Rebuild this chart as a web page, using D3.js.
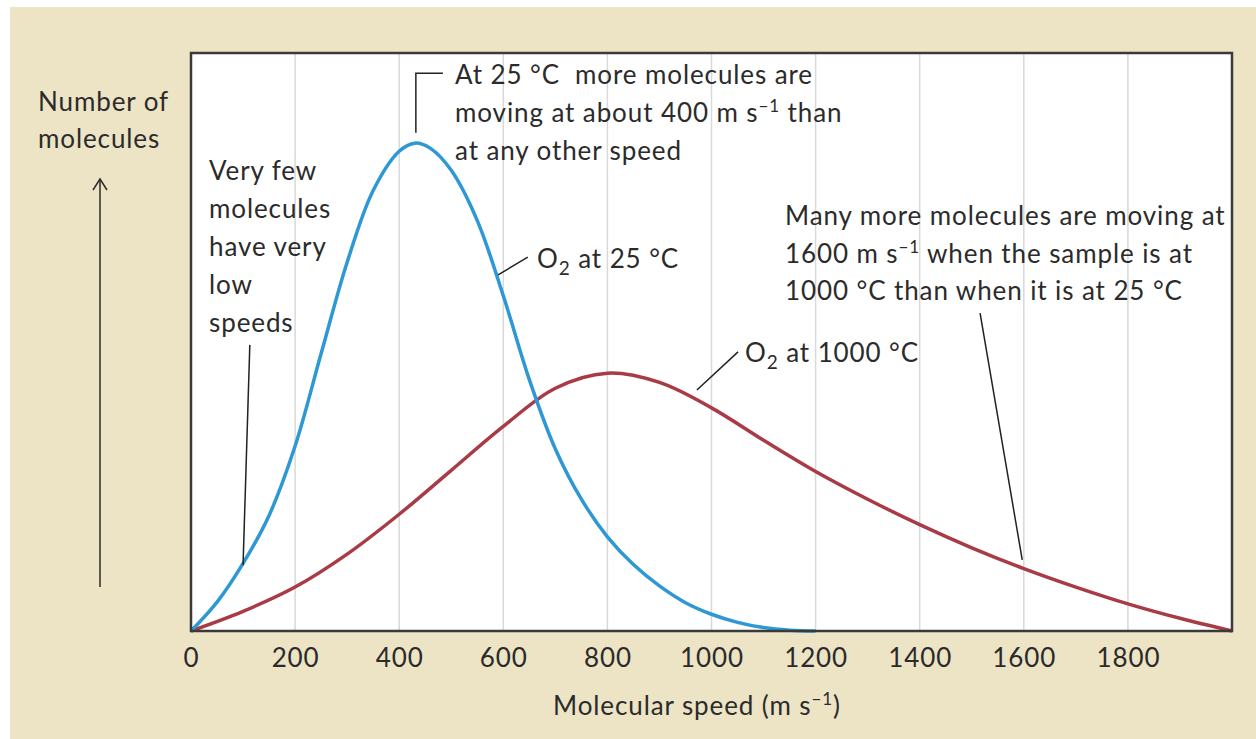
<!DOCTYPE html>
<html>
<head>
<meta charset="utf-8">
<script src="https://cdn.jsdelivr.net/npm/d3@7"></script>
<style>
  body { margin: 0; background: #fff; }
  text { font-family: Lato, "Open Sans", sans-serif; fill: #2b2b2b; letter-spacing: 0.9px; white-space: pre; }
</style>
</head>
<body>
<div id="chart"></div>
<script>
// speeds (m/s) and relative number of molecules (0-100 of plot height)
const speeds25 = [0, 50, 100, 150, 200, 250, 300, 350, 400, 430, 460, 500, 550, 600, 650, 700, 750, 800, 850, 900, 950, 1000, 1050, 1100, 1150, 1200];
const counts25 = [0, 5.0, 11.7, 20, 32, 48, 63.8, 76.2, 83.0, 84.4, 83.5, 79.7, 71, 58, 43.5, 31.5, 22.8, 16.3, 11.5, 7.8, 4.9, 2.9, 1.5, 0.6, 0.15, 0];

const speeds1000 = [0, 100, 200, 300, 400, 500, 600, 700, 800, 900, 1000, 1100, 1200, 1300, 1400, 1500, 1600, 1700, 1800, 1900, 2000];
const counts1000 = [0, 3.4, 7.6, 13.3, 20.2, 27.8, 35.4, 42.0, 44.6, 43.0, 38.6, 33.0, 27.6, 22.8, 18.4, 14.4, 10.8, 7.6, 4.7, 2.2, 0];

const xTicks = [0, 200, 400, 600, 800, 1000, 1200, 1400, 1600, 1800];
const gridTicks = [200, 400, 600, 800, 1000, 1200, 1400, 1600, 1800];

const config = { width: 1256, height: 739, left: 191, right: 1232, top: 53, bottom: 631 };

const svg = d3.select("#chart").append("svg")
    .attr("width", config.width)
    .attr("height", config.height);

// beige panel
svg.append("rect")
    .attr("x", 10).attr("y", 7)
    .attr("width", config.width - 10).attr("height", config.height - 7)
    .attr("fill", "#ede4c6");

const x = d3.scaleLinear().domain([0, 2000]).range([config.left, config.right]);
const y = d3.scaleLinear().domain([0, 100]).range([config.bottom, config.top]);

svg.append("rect")
    .attr("x", x(0)).attr("y", y(100))
    .attr("width", x(2000) - x(0)).attr("height", y(0) - y(100))
    .attr("fill", "#fff");

svg.append("g").selectAll("line")
    .data(gridTicks)
    .join("line")
    .attr("x1", d => x(d)).attr("x2", d => x(d))
    .attr("y1", y(0)).attr("y2", y(100))
    .attr("stroke", "#d9d9d9")
    .attr("stroke-width", 1.5);

const line = d3.line()
    .x(d => x(d[0]))
    .y(d => y(d[1]))
    .curve(d3.curveCatmullRom.alpha(0.5));

svg.append("path")
    .datum(speeds1000.map((s, i) => [s, counts1000[i]]))
    .attr("d", line)
    .attr("fill", "none")
    .attr("stroke", "#a83b45")
    .attr("stroke-width", 3.5);

svg.append("path")
    .datum(speeds25.map((s, i) => [s, counts25[i]]))
    .attr("d", line)
    .attr("fill", "none")
    .attr("stroke", "#2e98d5")
    .attr("stroke-width", 3.5);

// frame
svg.append("rect")
    .attr("x", x(0)).attr("y", y(100))
    .attr("width", x(2000) - x(0)).attr("height", y(0) - y(100))
    .attr("fill", "none")
    .attr("stroke", "#3a3a3a")
    .attr("stroke-width", 2.5);

// x axis
const xAxis = d3.axisBottom(x).tickValues(xTicks).tickFormat(d3.format("d")).tickSize(0).tickPadding(18);
const gx = svg.append("g")
    .attr("transform", `translate(0,${y(0)})`)
    .call(xAxis);
gx.select(".domain").remove();
gx.selectAll("text")
    .style("font-family", "Lato, 'Open Sans', sans-serif")
    .style("font-size", "26px")
    .style("letter-spacing", "0.9px")
    .attr("fill", "#2b2b2b");

// multi-line text helper; segments may be superscript or subscript
function textBlock(px, py, lines, lh) {
    const t = svg.append("text")
        .attr("x", px).attr("y", py)
        .style("font-size", "26px");
    lines.forEach((segs, i) => {
        if (typeof segs === "string") segs = [{ t: segs }];
        segs.forEach((s, j) => {
            const ts = t.append("tspan").text(s.t);
            if (j === 0) ts.attr("x", px).attr("y", py + i * lh);
            if (s.sup) ts.attr("dy", -10).style("font-size", "17px");
            if (s.sub) ts.attr("dy", 7).style("font-size", "19px");
            if (j > 0 && (segs[j - 1].sup || segs[j - 1].sub)) {
                ts.attr("dy", segs[j - 1].sup ? 10 : -7);
            }
        });
    });
    return t;
}

// axis titles
textBlock(38, 111, ["Number of", "molecules"], 37);
textBlock(553, 715, [[{ t: "Molecular speed (m s" }, { t: "−1", sup: true }, { t: ")" }]], 0);

// y arrow
svg.append("line")
    .attr("x1", 100).attr("x2", 100).attr("y1", 587).attr("y2", 180)
    .attr("stroke", "#2b2b2b").attr("stroke-width", 1.5);
svg.append("path")
    .attr("d", "M93,190 L100,179 L107,190")
    .attr("fill", "none").attr("stroke", "#2b2b2b").attr("stroke-width", 1.5);

// annotations
textBlock(455, 84, [
    "At 25 °C  more molecules are",
    [{ t: "moving at about 400 m s" }, { t: "−1", sup: true }, { t: " than" }],
    "at any other speed"
], 38);

textBlock(209, 180, ["Very few", "molecules", "have very", "low", "speeds"], 38);

textBlock(537, 268, [[{ t: "O" }, { t: "2", sub: true }, { t: " at 25 °C" }]], 0);
textBlock(745, 362, [[{ t: "O" }, { t: "2", sub: true }, { t: " at 1000 °C" }]], 0);

textBlock(785, 225, [
    "Many more molecules are moving at",
    [{ t: "1600 m s" }, { t: "−1", sup: true }, { t: " when the sample is at" }],
    "1000 °C than when it is at 25 °C"
], 37.5);

// leader lines, in data coordinates
const leaders = [
    [[432, 86.2], [432, 96.5], [484, 96.5]],
    [[113, 49.5], [100, 11.4]],
    [[590, 61.6], [647, 64.7]],
    [[972, 41.7], [1051, 48.3]],
    [[1516, 55], [1597, 12.3]]
];
svg.append("g").selectAll("path")
    .data(leaders)
    .join("path")
    .attr("d", d3.line().x(d => x(d[0])).y(d => y(d[1])))
    .attr("fill", "none")
    .attr("stroke", "#222")
    .attr("stroke-width", 1.5);
</script>
</body>
</html>
